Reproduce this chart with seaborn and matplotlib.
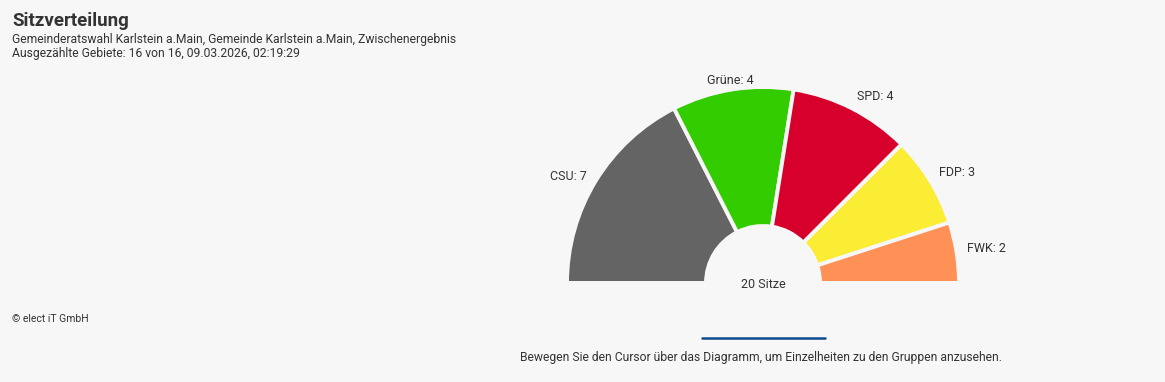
import numpy as np
import matplotlib.pyplot as plt
import seaborn as sns

parties = ['CSU', 'Grüne', 'SPD', 'FDP', 'FWK']
seats = [7, 4, 4, 3, 2]
colors = ['#646464', '#33cc00', '#d7002d', '#fbec34', '#ff9157']

title = 'Sitzverteilung'
subtitle1 = 'Gemeinderatswahl Karlstein a.Main, Gemeinde Karlstein a.Main, Zwischenergebnis'
subtitle2 = 'Ausgezählte Gebiete: 16 von 16, 09.03.2026, 02:19:29'
credit = '© elect iT GmbH'
hint = 'Bewegen Sie den Cursor über das Diagramm, um Einzelheiten zu den Gruppen anzusehen.'

bg = '#f7f7f7'
sns.set_theme(style='white')
plt.rcParams['font.family'] = ['Roboto', 'DejaVu Sans']

W, H = 1165, 382
fig = plt.figure(figsize=(W / 100, H / 100), dpi=100)
fig.patch.set_facecolor(bg)

# half donut: centre at (763, 283) px, outer radius 196 px, inner 57 px
cx, cy, R, r_in = 763, 283, 196, 57
lim = 1.1
side = 2 * lim * R
ax = fig.add_axes([(cx - side / 2) / W, ((H - cy) - side / 2) / H, side / W, side / H])
ax.set_facecolor('none')

total = sum(seats)
ax.pie(seats + [total], colors=colors + ['none'], startangle=180, counterclock=False,
       radius=1, wedgeprops=dict(width=(R - r_in) / R, edgecolor=bg, linewidth=2.8))
ax.set_xlim(-lim, lim)
ax.set_ylim(-lim, lim)
ax.set_aspect('equal')
ax.axis('off')

# data labels
start = 180.0
for name, val in zip(parties, seats):
    span = 180.0 * val / total
    mid = np.deg2rad(start - span / 2)
    start -= span
    x, y = np.cos(mid) * 1.055, np.sin(mid) * 1.055
    if abs(np.cos(mid)) < 0.3:
        ha = 'center'
        y -= 0.01
    elif x > 0:
        ha = 'left'
        y += 0.01
    else:
        ha = 'right'
        y -= 0.01
    ax.text(x, y, f'{name}: {val}', ha=ha, va='center', fontsize=9, color='#333333', clip_on=False)

ax.text(0, -0.01, f'{total} Sitze', ha='center', va='center', fontsize=9, color='#333333')

fig.text(12 / W, 1 - 21 / H, title, fontsize=13.5, fontweight='bold', color='#333333', va='center')
fig.text(12 / W, 1 - 39 / H, subtitle1, fontsize=8.7, color='#333333', va='center')
fig.text(12 / W, 1 - 53 / H, subtitle2, fontsize=8.7, color='#333333', va='center')
fig.text(12 / W, 1 - 319 / H, credit, fontsize=7.5, color='#333333', va='center')
fig.text(761 / W, 1 - 357 / H, hint, fontsize=8.75, color='#333333', va='center', ha='center')
fig.add_artist(plt.Line2D([702 / W, 825 / W], [1 - 338 / H, 1 - 338 / H], color='#0d4a8f', linewidth=1.8))

plt.savefig('out.png', dpi=100, facecolor=bg)
